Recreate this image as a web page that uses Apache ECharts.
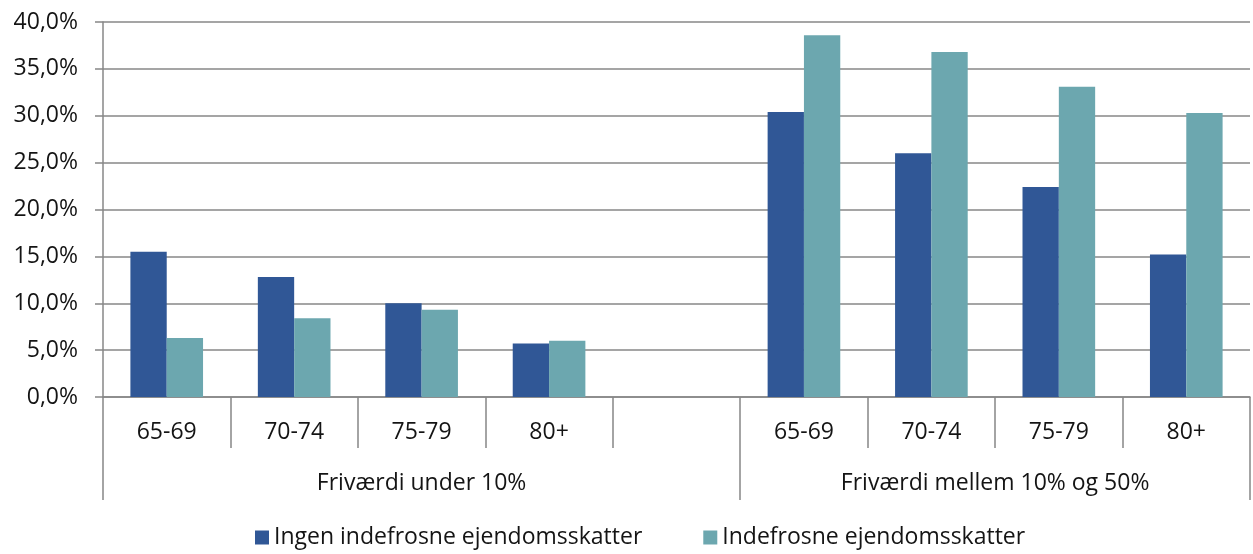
<!DOCTYPE html>
<html>
<head>
<meta charset="utf-8">
<script src="https://cdn.jsdelivr.net/npm/echarts@6/dist/echarts.min.js"></script>
<style>
  html, body { margin: 0; padding: 0; background: #fff; }
  #chart { width: 1253px; height: 554px; }
</style>
</head>
<body>
<div id="chart"></div>
<script>
// ---- data ----
var categories = ['65-69', '70-74', '75-79', '80+', '', '65-69', '70-74', '75-79', '80+'];
var groups = ['Friværdi under 10%', 'Friværdi mellem 10% og 50%'];
var seriesNames = ['Ingen indefrosne ejendomsskatter', 'Indefrosne ejendomsskatter'];
var ingen = [15.5, 12.8, 10.0, 5.7, null, 30.4, 26.0, 22.4, 15.2];
var indefrosne = [6.3, 8.4, 9.3, 6.0, null, 38.6, 36.8, 33.1, 30.3];
var yTicks = [0, 5, 10, 15, 20, 25, 30, 35, 40];

// ---- chart ----
var FONT = 'Open Sans';
var FS = 23;
var GRAY = '#878787';
var TXT = '#141414';

// second-level axis: points at each half category (boundaryGap false)
var halfPoints = [];
for (var i = 0; i <= categories.length * 2; i++) halfPoints.push(String(i));
var groupLabelAt = {5: groups[0], 14: groups[1]};
var groupTickAt = {0: true, 10: true, 18: true};

var chart = echarts.init(document.getElementById('chart'), null, {renderer: 'canvas'});
chart.setOption({
  animation: false,
  textStyle: {fontFamily: FONT},
  grid: {left: 103, right: 3, top: 22, bottom: 157, containLabel: false},
  legend: {
    data: seriesNames,
    left: 255,
    top: 526,
    padding: 0,
    itemWidth: 14,
    itemHeight: 14,
    itemGap: 61,
    icon: 'rect',
    textStyle: {fontFamily: FONT, fontSize: FS, color: TXT}
  },
  xAxis: [
    {
      type: 'category',
      data: categories,
      position: 'bottom',
      axisLine: {show: true, lineStyle: {color: GRAY, width: 1.5}},
      axisTick: {show: true, interval: 0, length: 51, lineStyle: {color: GRAY, width: 1.5}},
      axisLabel: {interval: 0, margin: 21, fontFamily: FONT, fontSize: FS, color: TXT, lineHeight: 28}
    },
    {
      type: 'category',
      data: halfPoints,
      position: 'bottom',
      boundaryGap: false,
      axisLine: {show: false},
      axisTick: {
        show: true,
        length: 103,
        interval: function (idx) { return !!groupTickAt[idx]; },
        lineStyle: {color: GRAY, width: 1.5}
      },
      axisLabel: {
        interval: 0,
        margin: 72,
        fontFamily: FONT, fontSize: FS, color: TXT, lineHeight: 28,
        formatter: function (v, idx) { return groupLabelAt[idx] || ''; }
      },
      splitLine: {show: false}
    }
  ],
  yAxis: {
    type: 'value',
    min: yTicks[0],
    max: yTicks[yTicks.length - 1],
    interval: yTicks[1] - yTicks[0],
    axisLine: {show: true, lineStyle: {color: GRAY, width: 1.5}},
    axisTick: {show: true, length: 8, lineStyle: {color: GRAY, width: 1.5}},
    splitLine: {show: true, lineStyle: {color: GRAY, width: 1.5}},
    axisLabel: {
      margin: 25,
      fontFamily: FONT, fontSize: FS, color: TXT,
      formatter: function (v) { return v.toFixed(1).replace('.', ',') + '%'; }
    }
  },
  series: [
    {
      name: seriesNames[0],
      type: 'bar',
      xAxisIndex: 0,
      data: ingen,
      barGap: '0%',
      barCategoryGap: '43%',
      itemStyle: {color: '#305796'}
    },
    {
      name: seriesNames[1],
      type: 'bar',
      xAxisIndex: 0,
      data: indefrosne,
      barGap: '0%',
      barCategoryGap: '43%',
      itemStyle: {color: '#6CA7AF'}
    }
  ]
});
</script>
</body>
</html>
